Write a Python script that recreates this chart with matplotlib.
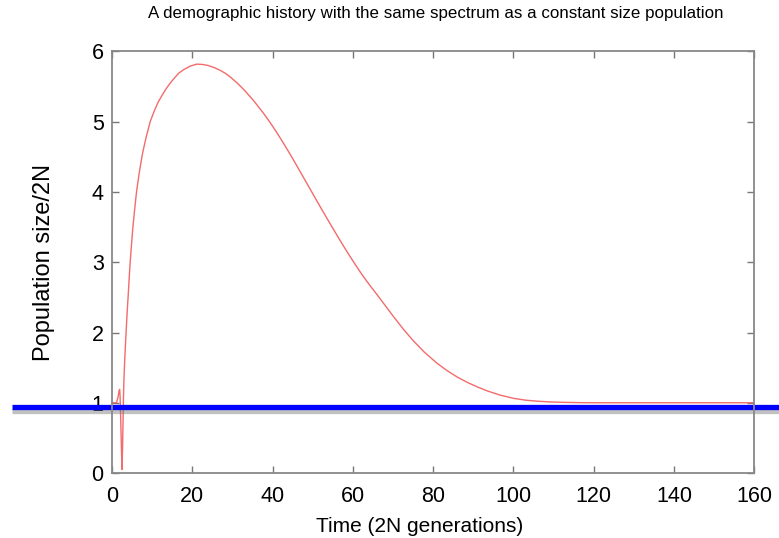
import matplotlib
matplotlib.use("Agg")
import matplotlib.pyplot as plt
import matplotlib.patheffects as pe

# Population size trajectory (time in 2N generations, size / 2N)
time_pts = [0, 1.1, 1.5, 1.75, 1.9, 2.0, 2.15, 2.3, 2.45, 2.5, 2.6, 2.7, 2.8, 2.9,
            3.05, 3.2, 3.35, 3.5, 3.75, 4.0, 4.25, 4.5, 4.85, 5.2, 5.6, 6.1, 6.8,
            7.6, 8.5, 9.5, 10.5, 11.5, 12.5, 13.6, 14.5, 15.5, 16.6, 17.8, 19.4,
            21.1, 22.6, 24, 25.5, 27, 28.2, 29.4, 31.2, 33, 35.3, 37.7, 39.4, 41,
            42.7, 44.3, 46, 47.6, 49.8, 52, 54.4, 56.8, 58.6, 60.5, 62.4, 64.3,
            66, 67.6, 70, 72.6, 75, 77.8, 80.9, 83.4, 86, 88.5, 91, 93.5, 96.6,
            100, 103, 106, 109, 113, 117, 121.5, 130, 140, 160]
size_pts = [1.0, 1.0, 1.08, 1.17, 1.19, 1.1, 0.8, 0.45, 0.1, 0.05, 0.3, 0.6, 0.9, 1.2,
            1.45, 1.65, 1.83, 2.0, 2.27, 2.5, 2.75, 2.98, 3.25, 3.5, 3.73, 4.0, 4.28,
            4.55, 4.78, 5.0, 5.15, 5.28, 5.38, 5.48, 5.55, 5.62, 5.69, 5.74, 5.79,
            5.82, 5.815, 5.80, 5.77, 5.73, 5.69, 5.64, 5.55, 5.447, 5.298, 5.123, 4.987, 4.85,
            4.695, 4.543, 4.376, 4.216, 3.996, 3.776, 3.541, 3.311, 3.144, 2.975, 2.813, 2.665,
            2.54, 2.418, 2.235, 2.045, 1.885, 1.72, 1.565, 1.46, 1.365, 1.29, 1.225, 1.168, 1.11,
            1.063, 1.037, 1.022, 1.012, 1.005, 1.001, 1.0, 1.0, 1.0, 1.0]
constant_level = 0.935

x_ticks = [0, 20, 40, 60, 80, 100, 120, 140, 160]
y_ticks = [0, 1, 2, 3, 4, 5, 6]

plt.rcParams['font.family'] = ['Liberation Sans', 'DejaVu Sans']

fig = plt.figure(figsize=(7.79, 5.38), dpi=100)
ax = fig.add_axes([0.1438, 0.1208, 0.8246, 0.7835])

ax.plot(time_pts, size_pts, color='#f36b6b', lw=1.0)

ax.set_xlim(0, 160)
ax.set_ylim(0, 6)
ax.set_xticks(x_ticks)
ax.set_yticks(y_ticks)
ax.tick_params(direction='in', top=True, right=True, length=5, width=1,
               color='#777777', labelsize=15.5)
ax.tick_params(axis='x', pad=9)
ax.tick_params(axis='y', pad=6)
for s in ax.spines.values():
    s.set_color('#888888')
    s.set_linewidth(1.3)

ax.set_xlabel('Time (2N generations)', fontsize=15)
ax.xaxis.set_label_coords(0.479, -0.105)
ax.set_ylabel('Population size/2N', fontsize=17)
ax.yaxis.set_label_coords(-0.088, 0.5)
fig.suptitle('A demographic history with the same spectrum as a constant size population',
             fontsize=12.2, x=0.56, y=0.988)

# thick blue reference line with shadow, extending beyond axes
ax.plot([-0.156, 1.05], [constant_level, constant_level], color='#0000ff', lw=3.8,
        transform=ax.get_yaxis_transform(), clip_on=False, solid_capstyle='butt',
        path_effects=[pe.SimpleLineShadow(offset=(0, -3), shadow_color='#777777', alpha=0.45),
                      pe.Normal()])

fig.savefig('out.png', dpi=100)
